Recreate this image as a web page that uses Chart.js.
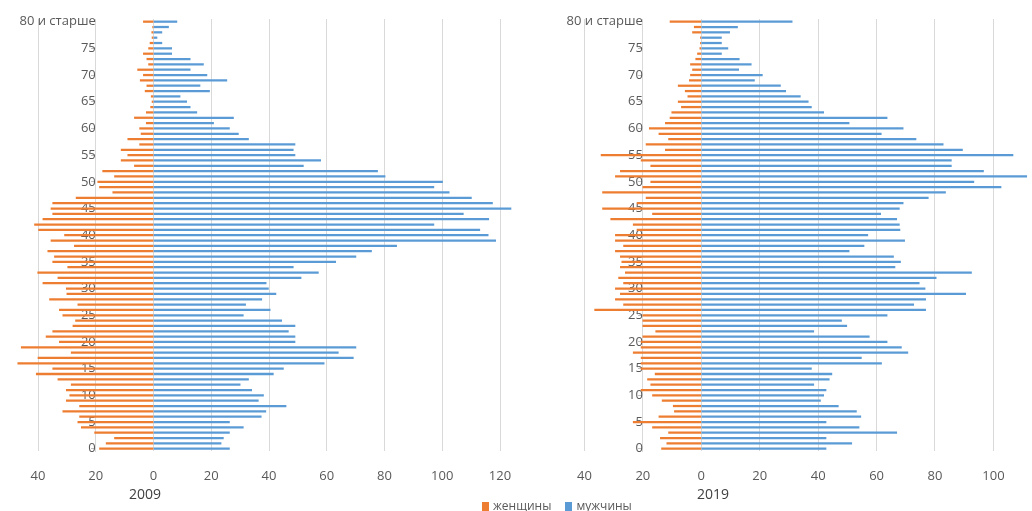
<!DOCTYPE html>
<html lang="ru">
<head>
  <meta charset="UTF-8">
  <title>Половозрастная пирамида 2009 / 2019</title>
  <script src="https://cdn.jsdelivr.net/npm/chart.js@4.4.0/dist/chart.umd.min.js"></script>
  <style>
    html, body {
      margin: 0;
      padding: 0;
      background: #ffffff;
      overflow: hidden;
      font-family: 'Open Sans', sans-serif;
    }
    .page {
      position: relative;
      width: 1032px;
      height: 511px;
      overflow: hidden;
    }
    canvas { position: absolute; top: 0; }
    #chart2009 { left: 0; }
    #chart2019 { left: 560px; }
    .year {
      position: absolute;
      top: 484px;
      font-size: 14px;
      color: #404040;
      transform: translateX(-50%);
    }
    .legend {
      position: absolute;
      top: 497px;
      left: 482px;
      font-size: 12px;
      color: #595959;
      white-space: nowrap;
    }
    .legend span.box {
      display: inline-block;
      width: 7px;
      height: 9px;
      margin-right: 4px;
      vertical-align: -1px;
    }
    .legend .item { margin-right: 11px; }
  </style>
</head>
<body>
  <div class="page">
    <canvas id="chart2009" width="545" height="511"></canvas>
    <canvas id="chart2019" width="520" height="511"></canvas>
    <div class="year" style="left:145px">2009</div>
    <div class="year" style="left:713px">2019</div>
    <div class="legend">
      <span class="item"><span class="box" style="background:#ED7D31"></span>женщины</span>
      <span class="item"><span class="box" style="background:#5B9BD5"></span>мужчины</span>
    </div>
  </div>

  <script>
    // age groups 0..79 and the last open group
    const ageLabels = [...Array(80).keys()].map(String).concat(['80 и старше']);

    // values, index = age
    const women2009 = [18.7, 16.4, 13.5, 20.4, 25, 26.2, 25.6, 31.4, 25.6, 30.2,
      29, 30.2, 28.5, 33.1, 40.6, 34.9, 47, 40, 28.5, 45.8,
      32.6, 37.2, 34.9, 27.9, 27, 31.4, 32.6, 26.2, 36, 30,
      30.2, 38.3, 33.1, 40.1, 29.7, 34.9, 34.3, 36.6, 27.4, 35.5,
      30.8, 39.8, 41.2, 38.3, 34.9, 35.5, 34.9, 26.8, 14.1, 18.7,
      19.3, 13.5, 17.6, 6.6, 11.2, 8.9, 11.2, 4.8, 8.9, 4.3,
      4.8, 2.5, 6.6, 2.5, 1, 0.5, 0.8, 2.9, 2.3, 4.6,
      3.5, 5.5, 1.7, 2.3, 3.5, 1.7, 1.2, 0.5, 0.6, 0.3,
      3.5];
    const men2009 = [26.3, 23.4, 24.2, 26.3, 31.1, 26.3, 37.3, 38.9, 45.9, 36.3,
      38.1, 34.0, 30.0, 32.9, 41.5, 45.0, 59.1, 69.2, 64.0, 70.1,
      49.0, 49.0, 46.7, 49.0, 44.4, 31.1, 40.4, 31.9, 37.5, 42.4,
      39.8, 39.0, 51.1, 57.1, 48.4, 63.1, 70.1, 75.5, 84.2, 118.5,
      115.9, 113.0, 97.1, 116.1, 107.3, 123.8, 117.4, 110.1, 102.4, 97.1,
      100.1, 80.2, 77.6, 51.9, 57.9, 49.0, 48.4, 49.0, 32.9, 29.4,
      26.3, 20.8, 27.7, 15.0, 12.7, 11.5, 9.2, 19.4, 16.1, 25.4,
      18.5, 12.7, 17.3, 12.7, 6.3, 6.3, 2.9, 1.2, 2.9, 5.2,
      8.1];
    const women2019 = [13.6, 11.8, 14, 11.2, 16.7, 23.3, 14.5, 9.2, 9.6, 13.4,
      16.7, 20.6, 17.3, 18.4, 15.8, 20.6, 20.6, 20.6, 23.3, 20.6,
      20.6, 20, 15.6, 20, 20, 20, 36.5, 26.6, 29.4, 27.7,
      29.4, 26.6, 28.3, 26, 27.7, 27.2, 27.7, 29.4, 26.6, 29.4,
      29.4, 22, 23.3, 31, 16.7, 33.8, 22, 18.9, 33.8, 20,
      17.3, 29.4, 27.7, 17.3, 20.6, 34.3, 12.3, 18.9, 11.2, 14.5,
      17.8, 12.3, 10.7, 10.1, 6.8, 7.9, 4.6, 5.5, 7.9, 4.1,
      3.7, 3, 3.7, 1.9, 1.3, 0.5, 0.3, 0.3, 3, 2.4,
      10.7];
    const men2019 = [42.7, 51.5, 42.7, 66.9, 54.0, 42.7, 54.6, 53.1, 46.9, 40.8,
      41.9, 42.7, 38.5, 43.8, 44.7, 37.7, 61.7, 54.8, 70.7, 68.5,
      63.6, 57.5, 38.5, 49.8, 48.0, 63.6, 76.8, 72.7, 76.8, 90.5,
      76.6, 74.6, 80.4, 92.5, 66.3, 68.2, 65.8, 50.6, 55.7, 69.6,
      57.0, 68.0, 67.8, 66.9, 61.4, 67.8, 69.1, 77.7, 83.6, 102.6,
      93.3, 111.4, 96.6, 85.6, 85.6, 106.7, 89.4, 82.8, 73.5, 61.6,
      69.1, 50.6, 63.6, 41.9, 37.7, 36.6, 33.9, 28.9, 27.1, 18.2,
      20.9, 12.8, 17.1, 13.0, 6.9, 9.1, 6.9, 6.9, 9.7, 12.4,
      31.1];

    const xTicksMin = -40, xTicksMax = 120, xStep = 20;

    const gridColor = '#d9d9d9';
    const labelColor = '#595959';

    function pyramid(canvasId, women, men, padding) {
      return new Chart(document.getElementById(canvasId), {
        type: 'bar',
        data: {
          labels: ageLabels,
          datasets: [
            // clip off: a few bars run past the last gridline, as in the original
            { label: 'женщины', data: women.map(v => -v), backgroundColor: '#ED7D31', barThickness: 1.6, clip: false },
            { label: 'мужчины', data: men, backgroundColor: '#5B9BD5', barThickness: 1.6, clip: false }
          ]
        },
        options: {
          indexAxis: 'y',
          responsive: false,
          animation: false,
          layout: { padding },
          plugins: { legend: { display: false }, tooltip: { enabled: false } },
          scales: {
            x: {
              stacked: true,
              min: xTicksMin,
              max: xTicksMax,
              ticks: {
                stepSize: xStep,
                padding: 17,
                color: labelColor,
                font: { family: 'Open Sans', size: 13 },
                callback: v => Math.abs(v)
              },
              grid: { color: gridColor, drawTicks: false },
              border: { display: false }
            },
            y: {
              stacked: true,
              reverse: true,
              position: { x: -20 },
              afterBuildTicks: scale => {
                // only every fifth age is labelled
                scale.ticks = scale.ticks.filter(t => t.value % 5 === 0);
              },
              ticks: {
                autoSkip: false,
                padding: 2,
                color: labelColor,
                font: { family: 'Open Sans', size: 13 }
              },
              grid: { offset: false, drawOnChartArea: false, drawTicks: true, tickLength: 4, color: '#bfbfbf' },
              border: { color: gridColor }
            }
          }
        }
      });
    }

    pyramid('chart2009', women2009, men2009, { top: 19, bottom: 10, left: 38, right: 45 });
    pyramid('chart2019', women2019, men2019, { top: 19, bottom: 10, left: 13, right: 22 });
  </script>
</body>
</html>
